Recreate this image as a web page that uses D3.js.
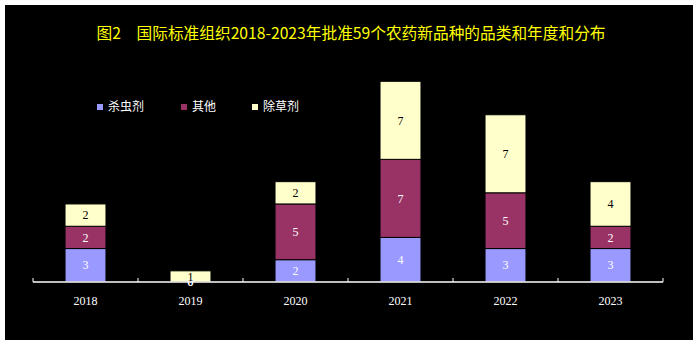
<!DOCTYPE html>
<html><head><meta charset="utf-8">
<script src="https://cdn.jsdelivr.net/npm/d3@7"></script>
<style>body{margin:0;background:#fff;} svg{display:block;}</style>
</head><body>
<script>
const title = "图2　国际标准组织2018-2023年批准59个农药新品种的品类和年度和分布";
const years = ["2018","2019","2020","2021","2022","2023"];
const seriesNames = ["杀虫剂","其他","除草剂"];
const insecticide = [3,0,2,4,3,3];
const other = [2,0,5,7,5,2];
const herbicide = [2,1,2,7,7,4];
const colors = ["#9999FF","#993366","#FFFFCC"];
const labelColors = ["#FFFFFF","#FFFFFF","#000000"];

const W = 699, H = 345;
const svg = d3.select("body").append("svg").attr("width", W).attr("height", H);
svg.append("rect").attr("x",5).attr("y",5).attr("width",688).attr("height",335).attr("fill","#000");

svg.append("text").attr("x",351).attr("y",39).attr("text-anchor","middle")
  .attr("fill","#FFFF00").attr("font-family","'Noto Sans CJK SC'").attr("font-size",15.7)
  .text(title);

const x = d3.scaleBand().domain(years).range([33,663]).paddingInner(0).paddingOuter(0);
const y = d3.scaleLinear().domain([0,20]).range([282,59]);
const barW = x.bandwidth()*0.39;

const rows = years.map((yr,i)=>({year:yr, vals:[insecticide[i],other[i],herbicide[i]]}));
const stack = d3.stack().keys([0,1,2]).value((d,k)=>d.vals[k])(rows);

stack.forEach((layer,k)=>{
  const g = svg.append("g");
  g.selectAll("rect").data(layer).join("rect")
    .attr("x",d=>x(d.data.year)+x.bandwidth()/2-barW/2)
    .attr("width",barW)
    .attr("y",d=>y(d[1]))
    .attr("height",d=>y(d[0])-y(d[1]))
    .attr("fill",colors[k])
    .attr("stroke","#000").attr("stroke-width",d=>d[1]>d[0]?1:0);
});
stack.forEach((layer,k)=>{
  svg.append("g").selectAll("text").data(layer).join("text")
    .attr("x",d=>x(d.data.year)+x.bandwidth()/2)
    .attr("y",d=>(y(d[0])+y(d[1]))/2)
    .attr("dy","0.35em")
    .attr("text-anchor","middle")
    .attr("fill",labelColors[k])
    .attr("font-family","'Liberation Serif'").attr("font-size",12)
    .text(d=>d[1]-d[0]);
});

// axis
const axisG = svg.append("g");
axisG.append("line").attr("x1",33).attr("x2",663).attr("y1",282).attr("y2",282)
  .attr("stroke","#fff").attr("stroke-width",1.5);
const bounds = years.map(d=>x(d)).concat([x.range()[1]]);
axisG.selectAll("line.t").data(bounds).join("line").attr("class","t")
  .attr("x1",d=>d).attr("x2",d=>d).attr("y1",282).attr("y2",278)
  .attr("stroke","#fff").attr("stroke-width",1);
axisG.selectAll("text").data(years).join("text")
  .attr("x",d=>x(d)+x.bandwidth()/2).attr("y",305)
  .attr("text-anchor","middle").attr("fill","#fff")
  .attr("font-family","'Liberation Serif'").attr("font-size",12)
  .text(d=>d);

// legend
const legX = [97,181,252];
const leg = svg.append("g");
seriesNames.forEach((n,k)=>{
  leg.append("rect").attr("x",legX[k]).attr("y",104).attr("width",6).attr("height",6).attr("fill",colors[k]);
  leg.append("text").attr("x",legX[k]+11).attr("y",107).attr("dy","0.35em")
    .attr("fill","#fff").attr("font-family","'Noto Sans CJK SC'").attr("font-size",12).text(n);
});
</script>
</body></html>
